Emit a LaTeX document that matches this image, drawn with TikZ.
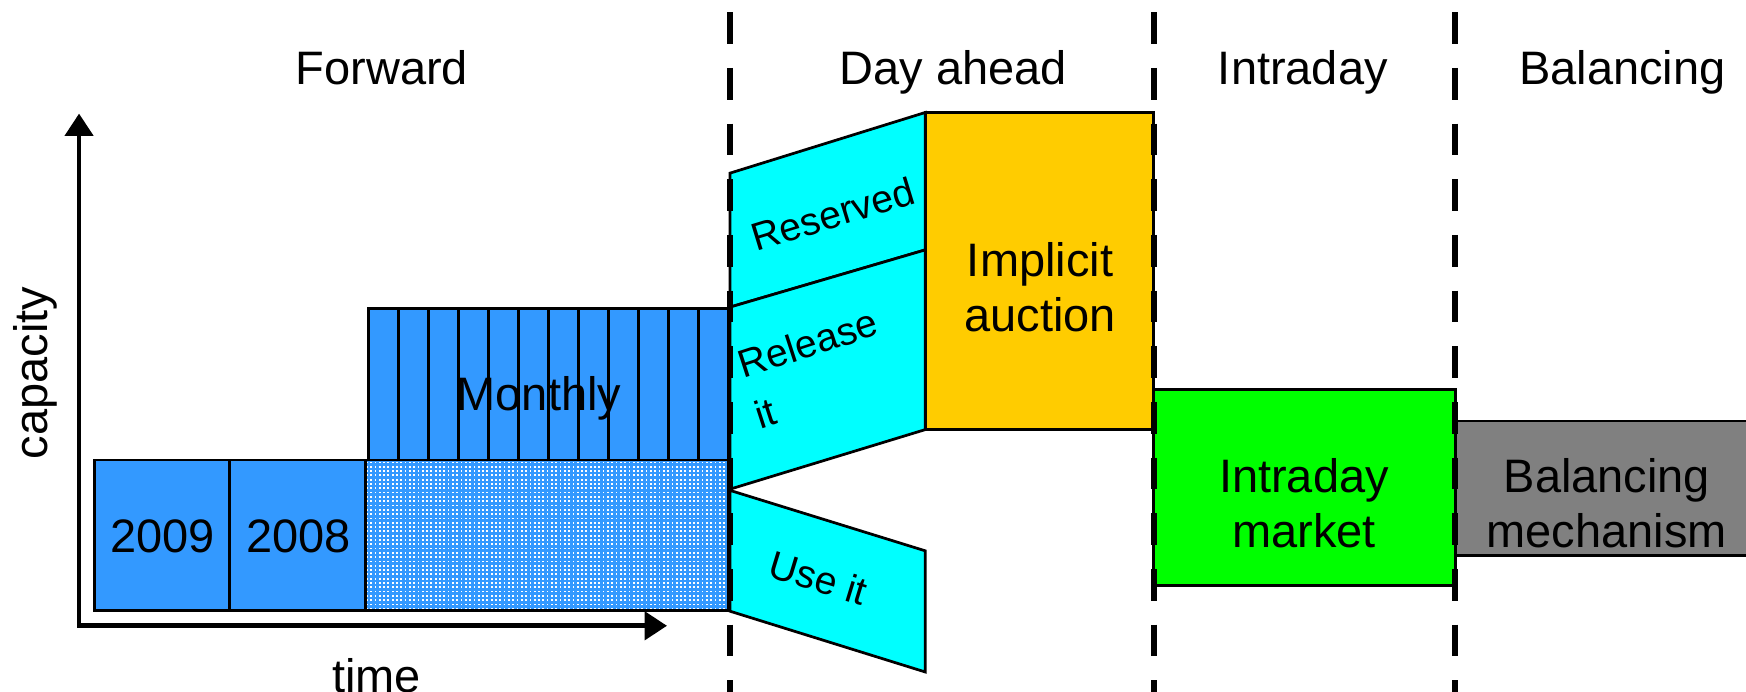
\documentclass[tikz,border=0pt]{standalone}
\usepackage{fontspec}
\setmainfont{Liberation Sans}
\usetikzlibrary{arrows.meta,patterns.meta}

\definecolor{yearblue}{RGB}{51,153,255}
\definecolor{dacyan}{RGB}{0,255,255}
\definecolor{auctionorange}{RGB}{255,204,0}
\definecolor{idgreen}{RGB}{0,255,0}
\definecolor{balgrey}{RGB}{128,128,128}

\tikzdeclarepattern{
  name=finedots,
  type=uncolored,
  bottom left={(-.1pt,-.1pt)},
  top right={(1.1pt,1.1pt)},
  tile size={(1.1pt,1.1pt)},
  code={\fill (0,0) rectangle (0.45pt,0.45pt);}
}

\begin{document}
\begin{tikzpicture}[x=0.1mm,y=-0.1mm,>={Triangle[length=2mm,width=2.5mm]},line join=miter,
  outline/.style={draw=black,line width=0.7pt},
  phaseline/.style={line width=1.5pt,dash pattern=on 2.85mm off 2.15mm},
  bigtext/.style={font=\fontsize{12}{14.2}\selectfont,align=center},
  smalltext/.style={font=\fontsize{10}{13.7}\selectfont}]
\useasboundingbox (0,0) rectangle (1568,621);
% axes
\coordinate (orig) at (71,562);
\coordinate (ytip) at (71,102);
\coordinate (xtip) at (599,562);
\draw[<->,line width=1.2pt] (ytip) -- (orig) -- (xtip);
\node[bigtext,rotate=90] (capacity) at (32,335) {capacity};
\node[bigtext,anchor=base] (time) at (338,622) {time};
% phase titles
\node[bigtext,anchor=base] (forward) at (343,76) {Forward};
\node[bigtext,anchor=base] (dayahead) at (856,76) {Day ahead};
\node[bigtext,anchor=base] (intraday) at (1170,76) {Intraday};
\node[bigtext,anchor=base] (balancing) at (1457,76) {Balancing};
% forward products
\fill[yearblue] (85,413) rectangle (654,548);
\fill[pattern=finedots,pattern color=white] (328,413) rectangle (654,548);
\draw[outline] (85,413) rectangle (206,548);
\draw[outline] (206,413) rectangle (328,548);
\draw[outline] (328,413) rectangle (654,548);
\node[bigtext,anchor=base] (y2009) at (146,496) {2009};
\node[bigtext,anchor=base] (y2008) at (268,496) {2008};
\draw[outline,fill=yearblue] (331,277) rectangle (654,413);
\foreach \i in {1,...,11}
  \draw[outline] ({331+\i*26.92},277) -- ++(0,136);
\node[bigtext,anchor=base] (monthly) at (484,369) {Monthly};
% day ahead
\draw[outline,fill=dacyan] (655.6,155.5) -- (831,101) -- (831,224.4) -- (655.6,275.8) -- cycle;
\draw[outline,fill=dacyan] (655.6,275.8) -- (831,224.4) -- (831,385.8) -- (655.6,439.3) -- cycle;
\draw[outline,fill=dacyan] (655.6,440.4) -- (831,494.7) -- (831,603.5) -- (655.6,548.9) -- cycle;
\node[smalltext,rotate=17] (reserved) at (748,192) {Reserved};
\node[smalltext,rotate=18,align=left] (release) at (733,331) {Release\\it};
\node[smalltext,rotate=-17] (useit) at (735,519) {Use it};
\draw[outline,fill=auctionorange] (831,101) rectangle (1036,386);
\node[bigtext] (implicit) at (934,258) {Implicit\\auction};
% intraday and balancing
\draw[outline,fill=idgreen] (1036,350) rectangle (1307,526);
\node[bigtext] (idmarket) at (1171,452) {Intraday\\market};
\draw[outline,fill=balgrey] (1307,378) rectangle (1580,498.6);
\node[bigtext] (balmech) at (1443,452) {Balancing\\mechanism};
% phase borders
\foreach \px in {655.6,1036,1307}
  \draw[phaseline] (\px,11) -- (\px,630);
\end{tikzpicture}
\end{document}
